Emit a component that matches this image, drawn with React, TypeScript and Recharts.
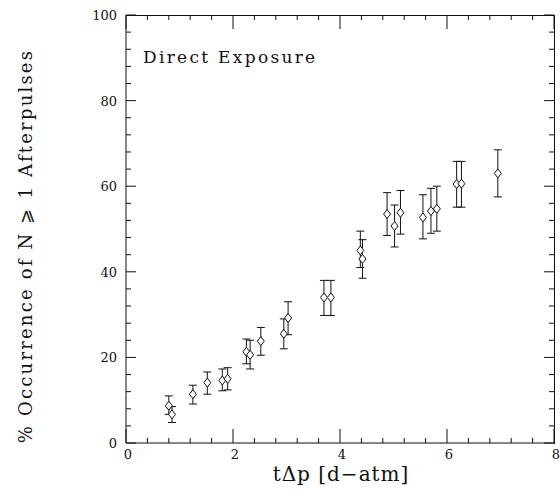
import React from 'react';
import {
  ErrorBar,
  Scatter,
  ScatterChart,
  XAxis,
  YAxis,
} from 'recharts';

const exposure = [0.8, 0.86, 1.25, 1.52, 1.8, 1.9, 2.25, 2.32, 2.52, 2.95, 3.03, 3.7, 3.83, 4.38, 4.42, 4.88, 5.02, 5.13, 5.55, 5.7, 5.81, 6.18, 6.27, 6.95];
const occurrence = [8.7, 6.7, 11.4, 14.1, 14.6, 15.0, 21.3, 20.6, 23.8, 25.5, 29.2, 34.0, 34.0, 45.0, 43.0, 53.5, 50.7, 53.8, 52.7, 54.2, 54.7, 60.5, 60.6, 63.0];
const errLow = [6.7, 4.8, 9.1, 11.4, 12.2, 12.4, 18.5, 17.3, 20.5, 22.0, 25.3, 29.8, 29.8, 41.0, 38.5, 48.5, 45.8, 48.8, 47.7, 49.0, 49.5, 55.1, 55.1, 57.5];
const errHigh = [11.0, 8.5, 13.5, 16.6, 17.3, 17.6, 24.3, 24.0, 27.0, 29.0, 33.0, 38.0, 38.0, 49.5, 47.5, 58.5, 55.6, 59.0, 58.0, 59.5, 60.0, 65.8, 65.8, 68.5];

const xTicks = [0, 0.4, 0.8, 1.2, 1.6, 2, 2.4, 2.8, 3.2, 3.6, 4, 4.4, 4.8, 5.2, 5.6, 6, 6.4, 6.8, 7.2, 7.6, 8];
const xLabeled = [0, 2, 4, 6, 8];
const yTicks = [0, 4, 8, 12, 16, 20, 24, 28, 32, 36, 40, 44, 48, 52, 56, 60, 64, 68, 72, 76, 80, 84, 88, 92, 96, 100];
const yLabeled = [0, 20, 40, 60, 80, 100];

const data = exposure.map((x, i) => ({
  x,
  y: occurrence[i],
  err: [occurrence[i] - errLow[i], errHigh[i] - occurrence[i]],
}));

const FONT = '"DejaVu Serif", "Liberation Serif", serif';
const INK = '#111';

const W = 560;
const H = 490;
const margin = { top: 15, right: 6, bottom: 0, left: 0 };
const Y_AXIS_W = 126;
const X_AXIS_H = 47;
const PLOT_W = W - margin.left - margin.right - Y_AXIS_W;
const PLOT_H = H - margin.top - margin.bottom - X_AXIS_H;

// ticks drawn as thin filled rects, mirrored onto the top / right edges
function renderBottomTick(props: any) {
  const x = Number(props.x);
  const y = Number(props.y);
  const v = props.payload.value;
  const major = xLabeled.includes(v);
  const len = major ? 14 : 5;
  const top = y - PLOT_H;
  return (
    <g key={`xb${v}`}>
      <rect x={x - 0.5} y={y - len} width={1} height={len} fill={INK} />
      <rect x={x - 0.5} y={top} width={1} height={len} fill={INK} />
      {major && (
        <text x={x + 2} y={y + 16} textAnchor="middle" fontFamily={FONT} fontSize={13} fill={INK}>
          {v}
        </text>
      )}
    </g>
  );
}

function renderLeftTick(props: any) {
  const x = Number(props.x);
  const y = Number(props.y);
  const v = props.payload.value;
  const major = yLabeled.includes(v);
  const len = major ? 10 : 5;
  const right = x + PLOT_W;
  return (
    <g key={`yl${v}`}>
      <rect x={x} y={y - 0.5} width={len} height={1} fill={INK} />
      <rect x={right - len} y={y - 0.5} width={len} height={1} fill={INK} />
      {major && (
        <text x={x - 9} y={y + 5} textAnchor="end" fontFamily={FONT} fontSize={13} fill={INK}>
          {v}
        </text>
      )}
    </g>
  );
}

function Diamond({ cx, cy }: any) {
  return (
    <polygon
      points={`${cx},${cy - 4.5} ${cx + 3.5},${cy} ${cx},${cy + 4.5} ${cx - 3.5},${cy}`}
      fill="#fff"
      stroke={INK}
      strokeWidth={1}
    />
  );
}

export default function App() {
  return (
    <div style={{ position: 'absolute', left: 0, top: 0, width: W, height: H, background: '#fff' }}>
      <ScatterChart width={W} height={H} margin={margin}>
        <XAxis
          type="number"
          dataKey="x"
          domain={[0, 8]}
          ticks={xTicks}
          interval={0}
          tickSize={0}
          tickMargin={0}
          tickLine={false}
          tick={renderBottomTick}
          axisLine={{ stroke: INK }}
          height={X_AXIS_H}
        />
        <YAxis
          type="number"
          dataKey="y"
          domain={[0, 100]}
          ticks={yTicks}
          interval={0}
          tickSize={0}
          tickMargin={0}
          tickLine={false}
          tick={renderLeftTick}
          axisLine={{ stroke: INK }}
          width={Y_AXIS_W}
        />
        <Scatter data={data} shape={<Diamond />} isAnimationActive={false}>
          <ErrorBar dataKey="err" direction="y" width={4} stroke={INK} strokeWidth={1} />
        </Scatter>
        <text x={143} y={63} fontFamily={FONT} fontSize={17} letterSpacing={2.3} fill={INK}>
          Direct Exposure
        </text>
        <text x={341} y={481} textAnchor="middle" fontFamily={FONT} fontSize={20} letterSpacing={1} fill={INK}>
          tΔp [d−atm]
        </text>
        <text
          transform="translate(32,246) rotate(-90)"
          textAnchor="middle"
          fontFamily={FONT}
          fontSize={18}
          letterSpacing={2.2}
          fill={INK}
        >
          % Occurrence of N ⩾ 1 Afterpulses
        </text>
      </ScatterChart>
      {/* top and right edges of the box frame */}
      <div
        style={{
          position: 'absolute',
          left: margin.left + Y_AXIS_W,
          top: margin.top - 0.5,
          width: PLOT_W - 0.5,
          height: PLOT_H,
          borderTop: `1px solid ${INK}`,
          borderRight: `1px solid ${INK}`,
          pointerEvents: 'none',
        }}
      />
    </div>
  );
}
